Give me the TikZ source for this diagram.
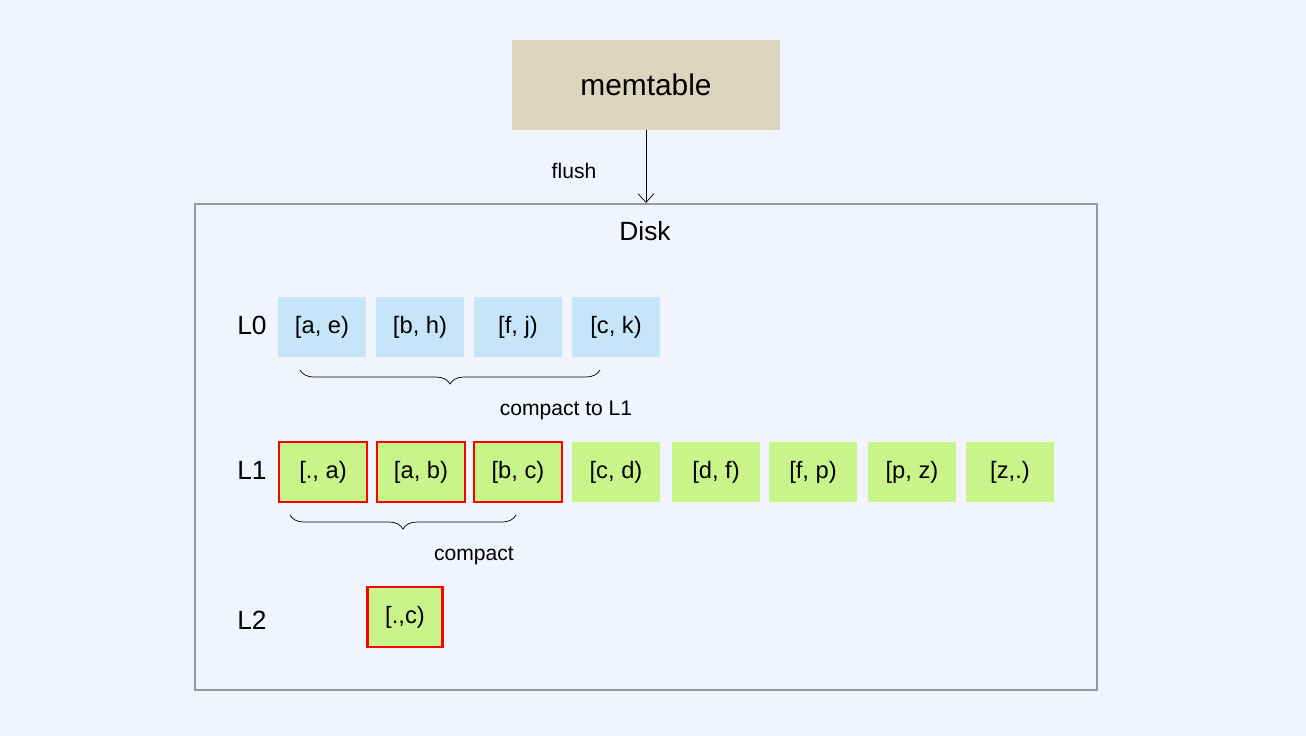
\documentclass[tikz,border=0pt]{standalone}
\usepackage{fontspec}
\setmainfont{Liberation Sans}
\usetikzlibrary{decorations.pathreplacing,positioning,arrows.meta}
\definecolor{bgcol}{HTML}{F1F4FC}
\definecolor{memcol}{HTML}{DCD5BE}
\definecolor{lzero}{HTML}{C6E5F9}
\definecolor{lone}{HTML}{C9F48A}
\tikzset{
  run/.style={minimum width=1.75cm,minimum height=1.2cm,inner sep=0pt,font=\fontsize{13.5}{16}\selectfont},
  hot/.style={draw=red,line width=1.2pt},
  lvl/.style={font=\fontsize{15}{18}\selectfont},
  note/.style={font=\fontsize{12}{14}\selectfont},
  span/.style={decorate,decoration={brace,mirror,amplitude=8pt}}
}
\begin{document}
\begin{tikzpicture}[x=0.02cm,y=-0.02cm]
    \fill[bgcol] (0,0) rectangle (1306,736);
    \node[fill=memcol,minimum width=5.36cm,minimum height=1.8cm,font=\fontsize{17}{20}\selectfont] (mem) at (646,85) {memtable};
    \draw[draw=gray!80,line width=1pt] (195,204) rectangle (1097,690);
    \coordinate (disktop) at (646,203);
    \draw[-{Straight Barb[length=5pt,width=9pt]}] (mem.south) -- (disktop);
    \node[note] (flush) at (574,171) {flush};
    \node[lvl] (disk) at (645,231) {Disk};
    \node[lvl] (l0) at (252,325) {L0};
    \node[lvl] (l1) at (252,470) {L1};
    \node[lvl] (l2) at (252,620) {L2};
    % level 0
    \node[run,fill=lzero] (a0) at (322,327) {[a, e)};
    \node[run,fill=lzero] (b0) at (420,327) {[b, h)};
    \node[run,fill=lzero] (c0) at (518,327) {[f, j)};
    \node[run,fill=lzero] (d0) at (616,327) {[c, k)};
    % level 1
    \node[run,fill=lone,hot] (a1) at (323,472) {[., a)};
    \node[run,fill=lone,hot] (b1) at (421,472) {[a, b)};
    \node[run,fill=lone,hot] (c1) at (518,472) {[b, c)};
    \node[run,fill=lone] (d1) at (616,472) {[c, d)};
    \node[run,fill=lone] (e1) at (716,472) {[d, f)};
    \node[run,fill=lone] (f1) at (813,472) {[f, p)};
    \node[run,fill=lone] (g1) at (912,472) {[p, z)};
    \node[run,fill=lone] (h1) at (1010,472) {[z,.)};
    % level 2
    \node[run,fill=lone,hot,minimum width=1.5cm] (a2) at (405,617) {[.,c)};
    \draw[span] (300,370) -- (600,370);
    \node[note] (cl1) at (566,410) {compact to L1};
    \draw[span] (290,515) -- (516,515);
    \node[note] (cl2) at (474,556) {compact};
\end{tikzpicture}
\end{document}
